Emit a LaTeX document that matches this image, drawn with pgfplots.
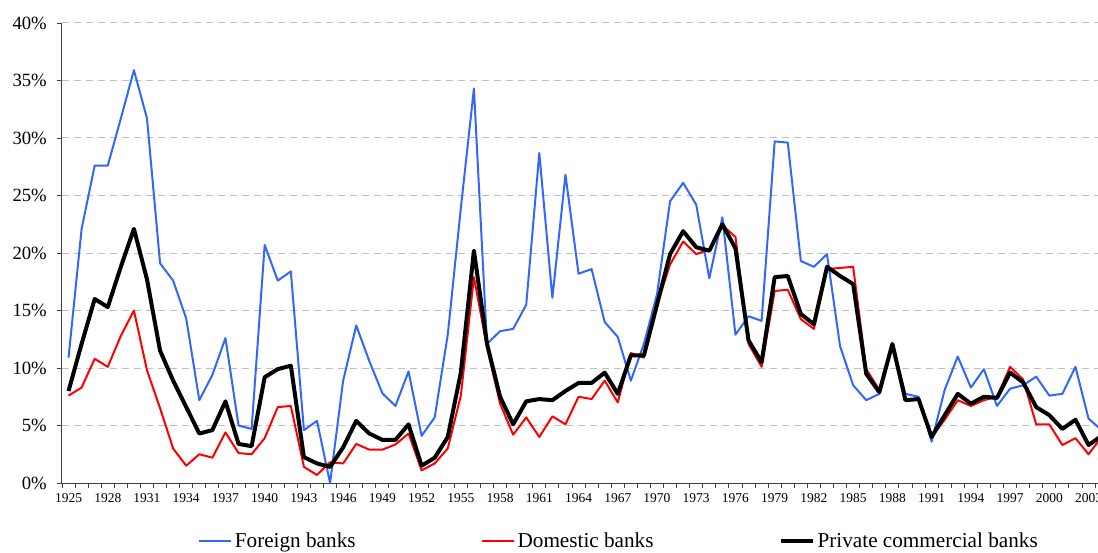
\documentclass[border=0pt]{standalone}
\usepackage{pgfplots}
\pgfplotsset{compat=1.18}
\usepackage{pgfplotstable}
\usepackage{fontspec}
\setmainfont{Liberation Serif}
\definecolor{fblue}{RGB}{51,102,255}
\definecolor{dred}{RGB}{255,0,0}

\pgfplotstableread{
k year foreign domestic private
0 1925 10.9 7.6 8.0
1 1926 22.1 8.3 12.1
2 1927 27.6 10.8 16.0
3 1928 27.6 10.1 15.3
4 1929 31.7 12.8 18.8
5 1930 35.9 15.0 22.1
6 1931 31.7 9.8 17.7
7 1932 19.1 6.5 11.5
8 1933 17.6 3.0 8.9
9 1934 14.3 1.5 6.6
10 1935 7.2 2.5 4.3
11 1936 9.4 2.2 4.6
12 1937 12.6 4.4 7.1
13 1938 5.0 2.6 3.4
14 1939 4.7 2.5 3.2
15 1940 20.7 3.9 9.2
16 1941 17.6 6.6 9.9
17 1942 18.4 6.7 10.2
18 1943 4.6 1.4 2.25
19 1944 5.4 0.7 1.7
20 1945 0.0 1.8 1.4
21 1946 8.9 1.7 3.1
22 1947 13.7 3.4 5.4
23 1948 10.6 2.9 4.3
24 1949 7.8 2.9 3.75
25 1950 6.7 3.35 3.75
26 1951 9.7 4.3 5.1
27 1952 4.1 1.1 1.5
28 1953 5.7 1.7 2.2
29 1954 12.9 3.0 4.0
30 1955 23.9 7.6 9.6
31 1956 34.3 17.9 20.2
32 1957 12.1 11.8 12.1
33 1958 13.2 6.9 7.5
34 1959 13.4 4.2 5.1
35 1960 15.5 5.7 7.1
36 1961 28.7 4.0 7.3
37 1962 16.1 5.8 7.2
38 1963 26.8 5.1 8.0
39 1964 18.2 7.5 8.7
40 1965 18.6 7.3 8.7
41 1966 14.0 8.9 9.6
42 1967 12.7 7.0 7.75
43 1968 8.9 11.3 11.1
44 1969 12.1 10.9 11.1
45 1970 16.4 15.5 15.5
46 1971 24.5 19.0 19.9
47 1972 26.1 21.0 21.9
48 1973 24.2 19.9 20.5
49 1974 17.8 20.3 20.2
50 1975 23.1 22.4 22.5
51 1976 12.9 21.4 20.4
52 1977 14.5 12.1 12.4
53 1978 14.1 10.1 10.5
54 1979 29.7 16.7 17.9
55 1980 29.6 16.8 18.0
56 1981 19.3 14.25 14.7
57 1982 18.8 13.4 13.8
58 1983 19.9 18.6 18.8
59 1984 11.9 18.7 18.0
60 1985 8.5 18.8 17.3
61 1986 7.2 9.9 9.5
62 1987 7.75 8.1 7.9
63 1988 12.0 12.0 12.1
64 1989 7.75 7.2 7.2
65 1990 7.5 7.3 7.3
66 1991 3.6 4.0 4.0
67 1992 8.1 5.5 5.9
68 1993 11.0 7.2 7.75
69 1994 8.3 6.7 6.9
70 1995 9.9 7.2 7.5
71 1996 6.7 7.5 7.4
72 1997 8.2 10.1 9.6
73 1998 8.5 9.0 8.75
74 1999 9.25 5.1 6.6
75 2000 7.6 5.1 5.9
76 2001 7.75 3.3 4.7
77 2002 10.1 3.9 5.5
78 2003 5.6 2.5 3.3
79 2004 4.6 4.0 4.1
}\datatable

\begin{document}
\begin{tikzpicture}
\path[use as bounding box] (0,0) rectangle (1098pt,552pt);
\begin{axis}[
  at={(62pt,69pt)}, anchor=south west,
  scale only axis,
  width=1036pt, height=460pt,
  xmin=-0.5, xmax=78.72,
  ymin=0, ymax=40,
  axis x line*=bottom, axis y line*=left,
  axis line style={-, black!75, line width=1pt},
  tick style={black!75, line width=0.9pt},
  tick align=outside,
  major tick length=5pt,
  xtick={-0.5,0.5,...,78.5},
  xticklabels={},
  extra x ticks={0,3,...,78},
  extra x tick labels={1925,1928,1931,1934,1937,1940,1943,1946,1949,1952,1955,1958,1961,1964,1967,1970,1973,1976,1979,1982,1985,1988,1991,1994,1997,2000,2003},
  extra x tick style={major tick length=0pt, grid=none},
  x tick label style={font=\fontsize{13.5}{14}\selectfont, inner sep=0pt, yshift=-10pt},
  ytick={0,5,...,40},
  yticklabels={0\%,5\%,10\%,15\%,20\%,25\%,30\%,35\%,40\%},
  y tick label style={font=\fontsize{18.7}{20}\selectfont, inner sep=0pt, xshift=-10pt},
  ymajorgrids=true,
  grid style={dash pattern=on 7pt off 5pt, color=black!25, line width=1pt},
  /pgf/number format/assume math mode=true,
  legend style={at={(0.538,-0.126)}, anchor=center, draw=none, fill=none,
    font=\fontsize{21.2}{23}\selectfont, legend columns=3,
    nodes={inner sep=2.5pt},
    /tikz/every even column/.append style={column sep=123pt}},
  legend image code/.code={\draw[#1] (0pt,0pt) -- (32pt,0pt);},
  every axis plot/.append style={line join=round},
]
\addplot[fblue, line width=2pt] table[x=k, y=foreign] {\datatable};
\addlegendentry{Foreign banks}
\addplot[dred, line width=2pt] table[x=k, y=domestic] {\datatable};
\addlegendentry{Domestic banks}
\addplot[black, line width=4pt] table[x=k, y=private] {\datatable};
\addlegendentry{Private commercial banks}
\end{axis}
\end{tikzpicture}
\end{document}
